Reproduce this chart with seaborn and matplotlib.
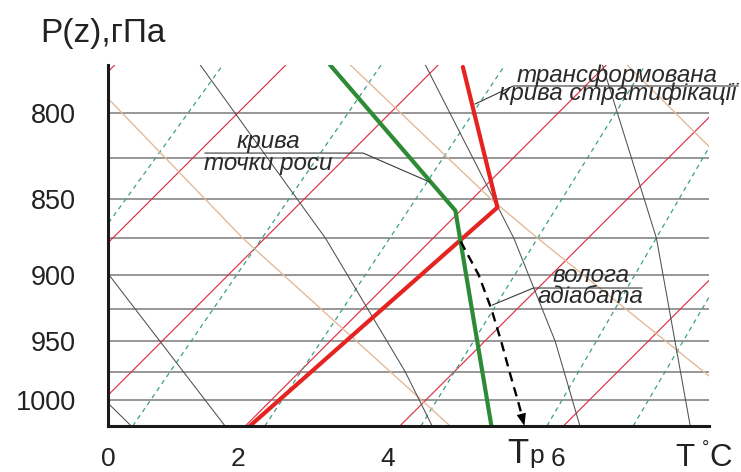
import numpy as np
import pandas as pd
import matplotlib
matplotlib.use("Agg")
import matplotlib.pyplot as plt
from matplotlib import transforms
import seaborn as sns

sns.set_style("white")
plt.rcParams["font.family"] = ["Liberation Sans", "DejaVu Sans"]

# ---------------------------------------------------------------- data
P_TOP, P_BOTTOM = 775, 1024          # hPa shown on the diagram
X_MIN, X_MAX = 0.0, 8.01             # diagram temperature axis

ISOBARS = [800, 825, 850, 875, 900, 925, 950, 975, 1000]
Y_TICKS = [800, 850, 900, 950, 1000]
Y_TICK_LABELS = ["800", "850", "900", "950", "1000"]
X_TICK_POS = [0.0, 1.73, 3.73, 6.0]
X_TICK_LABELS = ["0", "2", "4", "6"]

# isotherms (thin red): x at the bottom and at the top of the diagram
ISOTHERM_X_BOTTOM = [-4.72, -2.44, -0.41, 1.83, 3.89, 6.07]
ISOTHERM_X_TOP = [0.09, 2.37, 4.40, 6.64, 8.71, 10.88]

# saturation mixing-ratio lines (dashed teal)
MIXING_X_BOTTOM = [-1.95, 0.33, 2.09, 4.17, 5.85, 7.00]
MIXING_X_TOP = [1.53, 3.64, 5.29, 7.16, 8.65, 9.83]

# dry adiabats (tan)
DRY_1_P, DRY_1_X = [775, 875, 1024], [-0.43, 1.80, 4.56]
DRY_2_P, DRY_2_X = [775, 850, 875, 1024], [3.23, 5.11, 5.73, 8.84]
DRY_3_P, DRY_3_X = [775, 850], [6.92, 8.72]

# moist adiabats (dark grey)
MOIST_1_P, MOIST_1_X = [975, 1024], [-0.43, 0.31]
MOIST_2_P, MOIST_2_X = [875, 1024], [-0.36, 1.56]
MOIST_3_P, MOIST_3_X = [775, 875, 975, 1024], [1.23, 2.90, 3.96, 4.32]
MOIST_4_P, MOIST_4_X = [775, 875, 950, 1024], [4.23, 5.41, 5.96, 6.29]
MOIST_5_P, MOIST_5_X = [775, 875, 1024], [6.59, 7.31, 7.76]

# transformed stratification curve (thick red)
STRAT_P, STRAT_X = [776, 855, 1024], [4.73, 5.19, 1.89]
# dew-point curve (thick green)
DEW_P, DEW_X = [775, 857, 1024], [2.96, 4.63, 5.11]
# moist-adiabatic descent down to Tp (dashed arrow)
DESCENT_P = [877, 900, 925, 950, 975, 1000, 1024]
DESCENT_X = [4.70, 4.94, 5.11, 5.24, 5.35, 5.46, 5.55]

# label leader lines
LEADER_DEW_X, LEADER_DEW_P = [1.29, 3.40, 4.29], [822.3, 822.3, 839.4]
LEADER_STRAT_X, LEADER_STRAT_P = [4.89, 5.40, 8.40], [795.2, 785.7, 785.7]
LEADER_MOIST_X, LEADER_MOIST_P = [5.12, 5.67, 7.12], [922.0, 909.4, 909.4]

# two-line curve labels: text, x, pressure of the last baseline, line spacing
LABELS = [
    ("крива\nточки роси", 2.14, 832.2, 0.96),
    ("трансформована\nкрива стратифікації", 6.79, 793.2, 0.76),
    ("волога\nадіабата", 6.435, 920.6, 0.93),
]

# ---------------------------------------------------------------- colours
C_ISOBAR = "#808080"
C_ISOTHERM = "#dc3246"
C_MIXING = "#3c9f86"
C_DRY = "#e3b793"
C_MOIST = "#505050"
C_STRAT = "#e52421"
C_DEW = "#2e8b35"
C_TEXT = "#222222"


def p_forward(p):
    p = np.clip(np.asarray(p, dtype=float), 1e-3, None)
    return -np.power(p / 1000.0, -1.3)


def p_inverse(v):
    v = np.clip(np.abs(np.asarray(v, dtype=float)), 1e-9, None)
    return 1000.0 * np.power(v, -1.0 / 1.3)


def straight_family(x_bottom, x_top):
    rows = []
    for i, (xb, xt) in enumerate(zip(x_bottom, x_top)):
        rows.append({"line": i, "x": xb, "p": P_BOTTOM})
        rows.append({"line": i, "x": xt, "p": P_TOP})
    return pd.DataFrame(rows)


def curve_family(curves):
    rows = []
    for i, (ps, xs) in enumerate(curves):
        for p, x in zip(ps, xs):
            rows.append({"line": i, "x": x, "p": p})
    return pd.DataFrame(rows)


W, H = 741, 472
fig = plt.figure(figsize=(W / 100, H / 100), dpi=100)
ax = fig.add_axes([108 / W, 1 - 426 / H, 601 / W, 361 / H])
ax.set_xlim(X_MIN, X_MAX)
ax.set_ylim(P_BOTTOM, P_TOP)
ax.set_yscale("function", functions=(p_forward, p_inverse))
ax.set_ylim(P_BOTTOM, P_TOP)

common = dict(x="x", y="p", units="line", estimator=None, sort=False,
              legend=False, ax=ax)

ax.hlines(ISOBARS, X_MIN, X_MAX, colors=C_ISOBAR, lw=1.15, zorder=1)

sns.lineplot(data=straight_family(ISOTHERM_X_BOTTOM, ISOTHERM_X_TOP),
             color=C_ISOTHERM, lw=0.85, zorder=2, **common)
sns.lineplot(data=straight_family(MIXING_X_BOTTOM, MIXING_X_TOP),
             color=C_MIXING, lw=0.9, ls=(0, (3.6, 3.2)), zorder=2, **common)
sns.lineplot(data=curve_family([(DRY_1_P, DRY_1_X), (DRY_2_P, DRY_2_X),
                                (DRY_3_P, DRY_3_X)]),
             color=C_DRY, lw=0.95, zorder=2, **common)
sns.lineplot(data=curve_family([(MOIST_1_P, MOIST_1_X), (MOIST_2_P, MOIST_2_X),
                                (MOIST_3_P, MOIST_3_X), (MOIST_4_P, MOIST_4_X),
                                (MOIST_5_P, MOIST_5_X)]),
             color=C_MOIST, lw=0.75, zorder=2.5, **common)

sns.lineplot(x=STRAT_X, y=STRAT_P, estimator=None, sort=False, color=C_STRAT,
             lw=3.0, zorder=5, ax=ax)
sns.lineplot(x=DEW_X, y=DEW_P, estimator=None, sort=False, color=C_DEW,
             lw=3.0, zorder=6, ax=ax)

# dashed descent with arrow head at Tp
ax.plot(DESCENT_X[:-1] + [DESCENT_X[-1] - 0.03], DESCENT_P[:-1] + [1015],
        color="black", lw=1.7, ls=(0, (4, 2.6)), zorder=7)
ax.annotate("", xy=(DESCENT_X[-1], DESCENT_P[-1]),
            xytext=(DESCENT_X[-2], DESCENT_P[-2]),
            arrowprops=dict(arrowstyle="-|>,head_length=0.45,head_width=0.17",
                            mutation_scale=20, color="black", lw=0,
                            shrinkA=0, shrinkB=0),
            zorder=7, annotation_clip=False)

# leader lines and italic labels
for lx, lp in [(LEADER_DEW_X, LEADER_DEW_P), (LEADER_STRAT_X, LEADER_STRAT_P),
               (LEADER_MOIST_X, LEADER_MOIST_P)]:
    ax.plot(lx, lp, color="#3a3a3a", lw=0.8, zorder=8, clip_on=False)
for text, x, p, spacing in LABELS:
    ax.text(x, p, text, fontsize=17.4, style="italic", color="#2a2a2a",
            ha="center", va="baseline", multialignment="center",
            linespacing=spacing, zorder=9, clip_on=False)

ax.set_xlim(X_MIN, X_MAX)
ax.set_ylim(P_BOTTOM, P_TOP)
ax.set_xlabel("")
ax.set_ylabel("")

ax.set_yticks(Y_TICKS, Y_TICK_LABELS)
ax.set_xticks(X_TICK_POS, X_TICK_LABELS)
ax.minorticks_off()
ax.tick_params(axis="y", length=0, pad=23, labelsize=19.5, labelcolor=C_TEXT)
ax.tick_params(axis="x", length=0, pad=15, labelsize=19, labelcolor=C_TEXT)

for s in ["top", "right"]:
    ax.spines[s].set_visible(False)
for s in ["left", "bottom"]:
    ax.spines[s].set_linewidth(2.2)
    ax.spines[s].set_color("#1a1a1a")
    ax.spines[s].set_zorder(10)

# axis titles
fig.text(40 / W, 1 - 42 / H, "P(z),гПа", fontsize=24, color=C_TEXT,
         ha="left", va="baseline")

tp_base = ax.get_xaxis_transform()
ax.text(DESCENT_X[-1], (426 - 463) / 361, "T", fontsize=25, color=C_TEXT,
        ha="right", va="baseline", clip_on=False,
        transform=transforms.offset_copy(tp_base, fig=fig, x=4, y=0, units="dots"))
ax.text(DESCENT_X[-1], (426 - 463) / 361, "p", fontsize=19, color=C_TEXT,
        ha="left", va="baseline", clip_on=False,
        transform=transforms.offset_copy(tp_base, fig=fig, x=5, y=0, units="dots"))

fig.text(675 / W, 1 - 466 / H, "T", fontsize=22.5, color=C_TEXT,
         ha="left", va="baseline")
fig.text(702 / W, 1 - 453 / H, "°", fontsize=13, color=C_TEXT,
         ha="left", va="baseline")
fig.text(709 / W, 1 - 466 / H, "C", fontsize=22.5, color=C_TEXT,
         ha="left", va="baseline")

fig.savefig("out.png", dpi=100)
